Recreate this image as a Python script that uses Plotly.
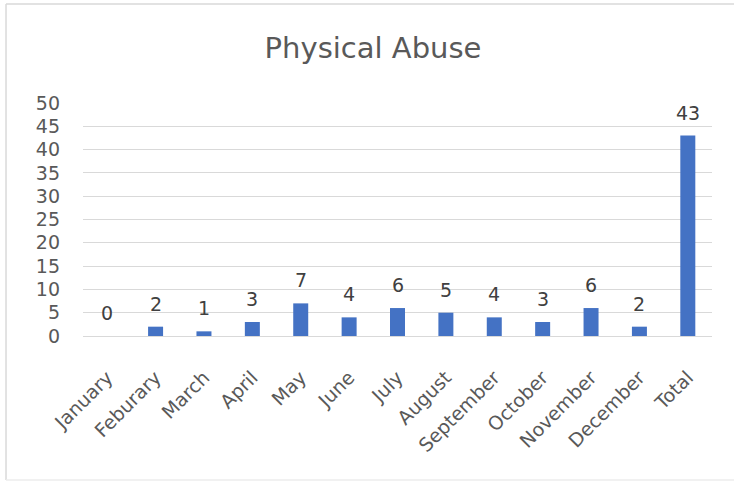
import plotly.graph_objects as go

months = ["January", "Feburary", "March", "April", "May", "June", "July",
          "August", "September", "October", "November", "December", "Total"]
counts = [0, 2, 1, 3, 7, 4, 6, 5, 4, 3, 6, 2, 43]
title_text = "Physical Abuse"
y_ticks = list(range(0, 51, 5))

FONT = "DejaVu Sans"

fig = go.Figure()
fig.add_trace(go.Bar(x=months, y=counts, marker=dict(color="#4472C4", line=dict(width=0)),
                     hoverinfo="x+y"))

for m, v in zip(months, counts):
    fig.add_annotation(x=m, y=v, text=str(v), showarrow=False, yanchor="bottom",
                       yshift=10, font=dict(family=FONT, size=19, color="#404040"))

# chart frame (top, left, bottom edges)
frame_line = dict(color="#D9D9D9", width=1.5)
X0, X1, Y0, Y1 = -0.1224, 1.1, -0.618, 1.425
fig.add_shape(type="line", xref="paper", yref="paper", x0=X0, x1=X1, y0=Y1, y1=Y1,
              line=frame_line, layer="below")
fig.add_shape(type="line", xref="paper", yref="paper", x0=X0, x1=X0, y0=Y0, y1=Y1,
              line=frame_line, layer="below")
fig.add_shape(type="line", xref="paper", yref="paper", x0=X0, x1=X1, y0=Y0, y1=Y0,
              line=dict(color="#EDEDED", width=1.5), layer="below")

fig.update_layout(
    width=734, height=483,
    margin=dict(l=83, r=22, t=103, b=147),
    paper_bgcolor="white", plot_bgcolor="white",
    title=dict(text=title_text, x=373/734, xref="container", xanchor="center",
               y=1-48/483, yref="container", yanchor="middle",
               font=dict(family=FONT, size=29, color="#595959")),
    bargap=0.69,
    showlegend=False,
    font=dict(family=FONT, color="#595959"),
)
fig.update_yaxes(range=[0, 50], tickvals=y_ticks, showgrid=True, gridcolor="#D9D9D9",
                 gridwidth=1, zeroline=True, zerolinecolor="#D9D9D9", zerolinewidth=1,
                 showline=False, ticks="", ticklabelstandoff=22,
                 tickfont=dict(family=FONT, size=19, color="#595959"))
fig.update_xaxes(tickangle=-45, showgrid=False, showline=True, linecolor="#D9D9D9",
                 linewidth=1, ticks="", ticklabelstandoff=22,
                 tickfont=dict(family=FONT, size=19, color="#595959"))

fig.write_html("out.html", config={"displayModeBar": False},
               post_script="document.body.style.margin='0px';")
